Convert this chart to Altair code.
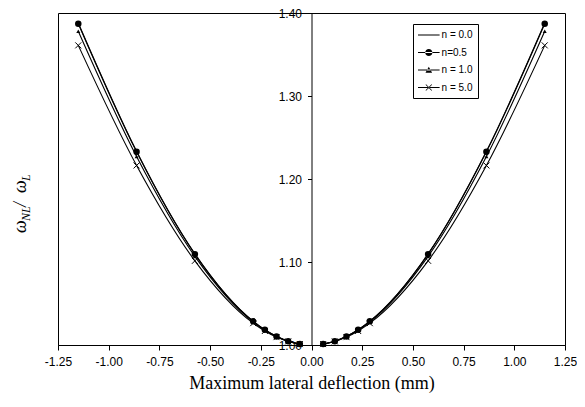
import altair as alt
import pandas as pd

# Deflection positions (mm)
deflection = [-1.15, -0.8625, -0.575, -0.2875, -0.23, -0.1725, -0.115, -0.0575,
              0.0575, 0.115, 0.1725, 0.23, 0.2875, 0.575, 0.8625, 1.15]

# Frequency ratio wNL/wL for each series
n00 = [1.388, 1.2334, 1.1098, 1.0286, 1.0184, 1.0104, 1.0046, 1.0012,
       1.0012, 1.0046, 1.0104, 1.0184, 1.0286, 1.1098, 1.2334, 1.388]
n05 = [1.387, 1.2327, 1.1095, 1.0285, 1.0183, 1.0103, 1.0046, 1.0012,
       1.0012, 1.0046, 1.0103, 1.0183, 1.0285, 1.1095, 1.2327, 1.387]
n10 = [1.378, 1.2270, 1.1067, 1.0277, 1.0178, 1.0101, 1.0045, 1.0011,
       1.0011, 1.0045, 1.0101, 1.0178, 1.0277, 1.1067, 1.2270, 1.378]
n50 = [1.361, 1.2163, 1.1014, 1.0263, 1.0169, 1.0095, 1.0043, 1.0011,
       1.0011, 1.0043, 1.0095, 1.0169, 1.0263, 1.1014, 1.2163, 1.361]

series_names = ["n = 0.0", "n=0.5", "n = 1.0", "n = 5.0"]
series_vals = [n00, n05, n10, n50]

x_ticks = [-1.25, -1.0, -0.75, -0.5, -0.25, 0.0, 0.25, 0.5, 0.75, 1.0, 1.25]
y_ticks = [1.0, 1.1, 1.2, 1.3, 1.4]

rows = []
for name, vals in zip(series_names, series_vals):
    for xv, yv in zip(deflection, vals):
        rows.append({"series": name, "x": xv, "y": yv,
                     "key": name + ("L" if xv < 0 else "R")})
df = pd.DataFrame(rows)

W, H = 507, 332

x_enc = alt.X("x:Q", scale=alt.Scale(domain=[-1.25, 1.25], nice=False, zero=False),
              axis=alt.Axis(values=x_ticks,
                            labelExpr="(datum.value < 0 ? '-' : '') + format(abs(datum.value), '.2f')",
                            title="Maximum lateral deflection (mm)",
                            grid=False, tickSize=5, labelPadding=6, titlePadding=7,
                            titleFont="Liberation Serif", titleFontSize=18, titleFontWeight="normal",
                            titleColor="black", labelFont="Liberation Sans", labelFontSize=12,
                            labelColor="black", domainColor="black", tickColor="black",
                            labelFlush=False))
y_enc = alt.Y("y:Q", scale=alt.Scale(domain=[1.0, 1.4], nice=False, zero=False),
              axis=alt.Axis(values=y_ticks, format=".2f", title=None, grid=False,
                            offset=-W / 2, tickSize=4, labelPadding=6,
                            labelFont="Liberation Sans", labelFontSize=12, labelColor="black",
                            domainColor="black", tickColor="black", labelFlush=False))

base = alt.Chart(df)

lines = base.mark_line(interpolate="monotone", color="black", strokeWidth=1.1).encode(
    x=x_enc, y=y_enc, detail="key:N")

dots = base.transform_filter(alt.datum.series == "n=0.5").mark_point(
    shape="circle", filled=True, size=42, color="black", opacity=1).encode(x=x_enc, y=y_enc)

tris = base.transform_filter(alt.datum.series == "n = 1.0").mark_point(
    shape="triangle-up", filled=True, size=16, color="black", opacity=1).encode(x=x_enc, y=y_enc)

crosses = base.transform_filter(alt.datum.series == "n = 5.0").mark_point(
    shape="M-1,-1L1,1M-1,1L1,-1", filled=False, size=36, color="black",
    strokeWidth=1, opacity=1).encode(x=x_enc, y=y_enc)

# legend symbols (filled outlines): line sample with marker
LINE = "M-1,-0.085H2.6V0.085H-1Z"
leg_paths = [
    LINE,
    LINE + "M0.2,0A0.6,0.6 0 1,0 1.4,0A0.6,0.6 0 1,0 0.2,0Z",
    LINE + "M0.25,0.45L1.35,0.45L0.8,-0.55Z",
    LINE + "M0.342,-0.542L1.342,0.458L1.258,0.542L0.258,-0.458Z"
           "M0.342,0.542L1.342,-0.458L1.258,-0.542L0.258,0.458Z",
]
legend_layer = base.mark_point(opacity=0, size=144, filled=True, color="black").encode(
    x=x_enc, y=y_enc,
    shape=alt.Shape("series:N", scale=alt.Scale(domain=series_names, range=leg_paths),
                    legend=alt.Legend(orient="none", legendX=355, legendY=11, title=None,
                                      strokeColor="black", padding=5, symbolSize=144,
                                      symbolFillColor="black", symbolStrokeWidth=0,
                                      symbolOpacity=1,
                                      labelFont="Liberation Sans", labelFontSize=10,
                                      labelColor="black", labelOffset=11.6, rowPadding=6.5,
                                      fillColor="white")))

one = pd.DataFrame({"a": [0]})
def piece(txt, px, py, fs):
    return alt.Chart(one).mark_text(angle=270, align="left", baseline="alphabetic",
                                    font="Liberation Serif", fontStyle="italic",
                                    fontSize=fs, color="black").encode(
        text=alt.value(txt), x=alt.value(px), y=alt.value(py))

title_parts = [
    piece("ω", -32, 220, 18),
    piece("NL", -28, 208, 12),
    piece(" / ", -32, 194, 18),
    piece("ω", -32, 180, 18),
    piece("L", -28, 168, 12),
]

chart = alt.layer(lines, dots, tris, crosses, legend_layer, *title_parts).properties(
    width=W, height=H,
    autosize=alt.AutoSizeParams(type="none"),
    padding={"left": 50, "top": 5, "right": 12, "bottom": 55},
    background="white",
).configure_view(stroke="black", strokeWidth=1)

chart.save("out.html", embed_options={"renderer": "svg", "actions": False})
